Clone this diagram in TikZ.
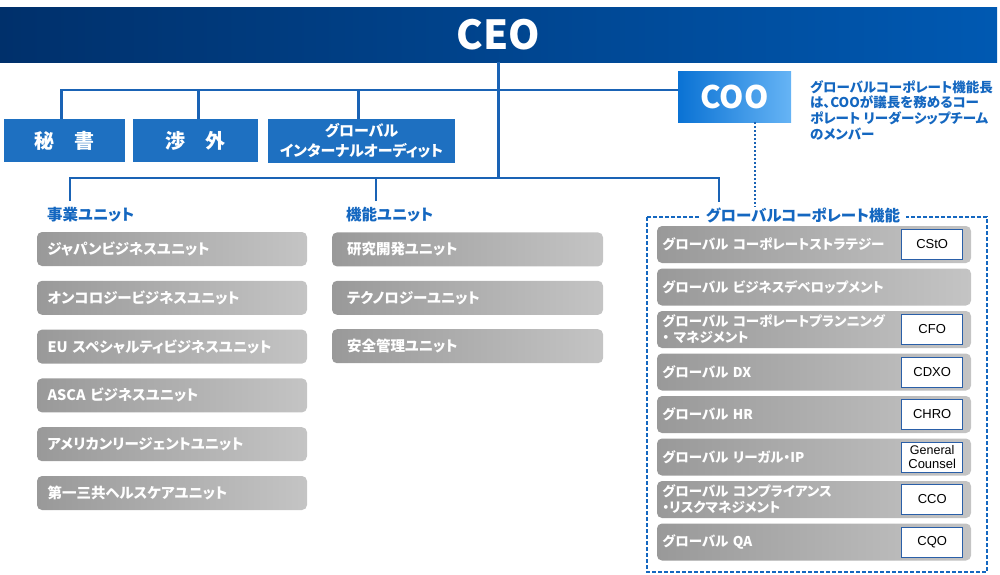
\documentclass[tikz,border=0pt]{standalone}
\usepackage{fontspec}
\setmainfont{Noto Sans CJK JP}[RawFeature=+palt]
\newfontfamily\tagfont{Liberation Sans}
\usetikzlibrary{positioning}
\definecolor{DS_Navy}{HTML}{00306B}
\definecolor{DS_Blue}{HTML}{0059B2}
\definecolor{DS_Box}{HTML}{1E70C1}
\definecolor{DS_Line}{HTML}{1A63B5}
\definecolor{DS_Text}{HTML}{1467C0}
\definecolor{DS_GrayL}{HTML}{999999}
\definecolor{DS_GrayR}{HTML}{C4C4C4}
\definecolor{DS_CooL}{HTML}{0A72D4}
\definecolor{DS_CooR}{HTML}{66B4F5}
\definecolor{DS_Tag}{HTML}{2A5FA8}

\begin{document}
\begin{tikzpicture}[x=1pt, y=-1pt,
    link/.style={draw=DS_Line, line width=2.2pt},
    topbox/.style={fill=DS_Box, text=white, inner sep=0pt, align=center},
    unit/.style={left color=DS_GrayL, right color=DS_GrayR, rounded corners=5pt, text=white,
        font=\bfseries\fontsize{14.5}{17}\selectfont, minimum height=34pt, inner ysep=0pt, align=left},
    corp/.style={unit, minimum height=37pt, text width=303pt, inner xsep=5.5pt,
        font=\bfseries\fontsize{13.5}{16}\selectfont},
    tag/.style={fill=white, draw=DS_Tag, line width=1pt, minimum width=61pt, minimum height=30pt,
        inner sep=0pt, align=center, font=\tagfont\fontsize{13}{14}\selectfont},
    head/.style={text=DS_Text, font=\bfseries\fontsize{15.5}{18}\selectfont, inner sep=0pt}]
    % Canvas
    \useasboundingbox (0,0) rectangle (1000,574);

    % 1. CEO banner and COO
    \node[left color=DS_Navy, right color=DS_Blue, minimum width=997pt, minimum height=55pt, inner sep=0pt,
        text=white, font=\bfseries\fontsize{40}{44}\selectfont] (ceo) at (498.5,34.5) {CEO};
    \node[left color=DS_CooL, right color=DS_CooR, minimum width=113pt, minimum height=51pt, inner sep=0pt,
        text=white, font=\bfseries\fontsize{31}{34}\selectfont] (coo) at (734.5,96.5) {COO};
    \node[anchor=north west, align=left, text=DS_Text, inner sep=0pt,
        font=\bfseries\fontsize{13.5}{15.7}\selectfont] (note) at (810,80)
        {グローバルコーポレート機能長\\は、COOが議長を務めるコー\\ポレート リーダーシップチーム\\のメンバー};

    % 2. Staff boxes under the CEO
    \node[topbox, minimum width=121pt, minimum height=43pt, font=\bfseries\fontsize{20}{22}\selectfont] (sec) at (64.5,140.5) {秘\quad 書};
    \node[topbox, minimum width=125pt, minimum height=43pt, font=\bfseries\fontsize{20}{22}\selectfont] (ext) at (195.5,140.5) {渉\quad 外};
    \node[topbox, minimum width=187pt, minimum height=44pt, font=\bfseries\fontsize{15}{20}\selectfont] (audit) at (361.5,141) {グローバル\\インターナルオーディット};

    % Lines
    \coordinate (bar1) at (0,90);
    \coordinate (bar2) at (0,178);
    \draw[link] ([xshift=-3pt]sec.north) |- (coo.west |- bar1);
    \draw[link] ([xshift=3pt]ext.north) -- ([xshift=3pt]ext.north |- bar1);
    \draw[link] ([xshift=-3pt]audit.north) -- ([xshift=-3pt]audit.north |- bar1);
    \draw[link] (ceo.south) -- (ceo.south |- bar2);

    % 3. Unit headings
    \node[head, anchor=west] (bu) at (47,215) {事業ユニット};
    \node[head, anchor=west] (fu) at (346,215) {機能ユニット};
    \coordinate (buin) at (70,201);
    \coordinate (fuin) at (376,201);
    \coordinate (gcin) at (719,202);
    \draw[link] (buin) |- (bar2 -| gcin) -- (gcin);
    \draw[link] (fuin) -- (fuin |- bar2);

    % 4. Business units
    \foreach \txt [count=\i] in {ジャパンビジネスユニット, オンコロジービジネスユニット, EU スペシャルティビジネスユニット,
        ASCA ビジネスユニット, アメリカンリージェントユニット, 第一三共ヘルスケアユニット}
        \node[unit, text width=249pt, inner xsep=10.5pt] (b\i) at (172, 200.2+48.8*\i) {\txt};

    % 5. Function units
    \foreach \txt [count=\i] in {研究開発ユニット, テクノロジーユニット, 安全管理ユニット}
        \node[unit, text width=241pt, inner xsep=15pt] (f\i) at (467.5, 201+48.4*\i) {\txt};

    % 6. Global corporate functions
    \draw[DS_Text, line width=1.3pt, dash pattern=on 4pt off 2pt] (647,217) rectangle (987,572);
    \node[fill=white, text=DS_Text, inner xsep=6pt, inner ysep=1pt,
        font=\fontsize{15.5}{18}\selectfont\bfseries] (gc) at (803,215) {グローバルコーポレート機能};
    \draw[DS_Line, line width=2pt, dotted] ([xshift=20pt]coo.south) -- ([xshift=20pt]coo.south |- gc.north);

    \foreach \txt [count=\i] in {{グローバル コーポレートストラテジー}, {グローバル ビジネスデベロップメント},
        {グローバル コーポレートプランニング\\・ マネジメント}, {グローバル DX}, {グローバル HR},
        {グローバル リーガル・IP}, {グローバル コンプライアンス\\・リスクマネジメント}, {グローバル QA}}
        \node[corp] (g\i) at (814, 202+42.5*\i) {\txt};

    \foreach \i/\tg in {1/CStO, 3/CFO, 4/CDXO, 5/CHRO, 6/{\fontsize{12.5}{13.5}\selectfont General\\Counsel}, 7/CCO, 8/CQO}
        \node[tag, anchor=east] (t\i) at ([xshift=-8pt]g\i.east) {\tg};

\end{tikzpicture}
\end{document}
